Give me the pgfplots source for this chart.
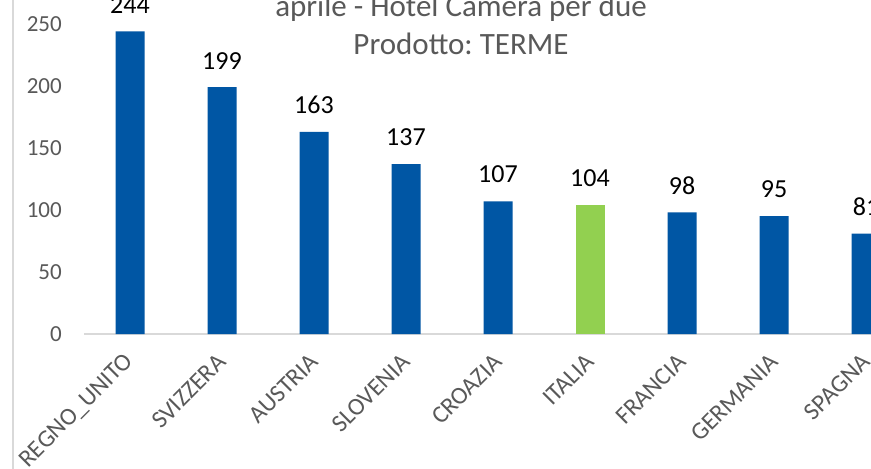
\documentclass[border=0pt]{standalone}
\usepackage{fontspec}
\setmainfont{Carlito}
\usepackage{pgfplots}
\pgfplotsset{compat=1.18}
\definecolor{barblue}{RGB}{0,86,164}
\definecolor{itgreen}{RGB}{146,208,80}
\definecolor{txtgray}{RGB}{89,89,89}
\definecolor{linegray}{RGB}{217,217,217}

\begin{document}
\frenchspacing
\begin{tikzpicture}[x=1pt,y=1pt]
\useasboundingbox (0,0) rectangle (871,469);
\clip (0,0) rectangle (871,469);
\fill[white] (0,0) rectangle (871,469);
% frame of the chart area
\draw[linegray, line width=1.5pt] (13,0) -- (13,469);
\begin{axis}[
    at={(84pt,135pt)}, anchor=south west,
    scale only axis, width=828pt, height=310pt,
    xmin=-0.5, xmax=8.5, ymin=0, ymax=250,
    ybar, bar width=29pt,
    xtick={0,...,8},
    xticklabels={REGNO\_UNITO,SVIZZERA,AUSTRIA,SLOVENIA,CROAZIA,ITALIA,FRANCIA,GERMANIA,SPAGNA},
    ytick={0,50,...,250},
    axis x line*=bottom, axis y line*=left,
    y axis line style={draw=none},
    x axis line style={draw=linegray, line width=1.5pt},
    major tick length=0pt,
    tick label style={text=txtgray},
    yticklabel style={font=\fontsize{23}{27}\selectfont, anchor=east, inner sep=0pt, xshift=-22pt},
    xticklabel style={font=\fontsize{24.5}{29}\selectfont, yshift=-24pt, rotate=45, anchor=east, inner sep=0pt},
    /pgf/number format/assume math mode=true,
    nodes near coords,
    nodes near coords style={font=\fontsize{26}{30}\selectfont, text=black, anchor=south, inner sep=0pt, yshift=18pt},
    clip=false,
]
\addplot[fill=barblue, draw=none, bar shift=0pt] coordinates {
    (0,244)(1,199)(2,163)(3,137)(4,107)(6,98)(7,95)(8,81)
};
\addplot[fill=itgreen, draw=none, bar shift=0pt] coordinates {(5,104)};
\end{axis}
\node[anchor=base, text=txtgray, font=\fontsize{31}{36}\selectfont] at (461,452) {aprile - Hotel Camera per due};
\node[anchor=base, text=txtgray, font=\fontsize{31}{36}\selectfont] at (461,414) {Prodotto: TERME};
\end{tikzpicture}
\end{document}
